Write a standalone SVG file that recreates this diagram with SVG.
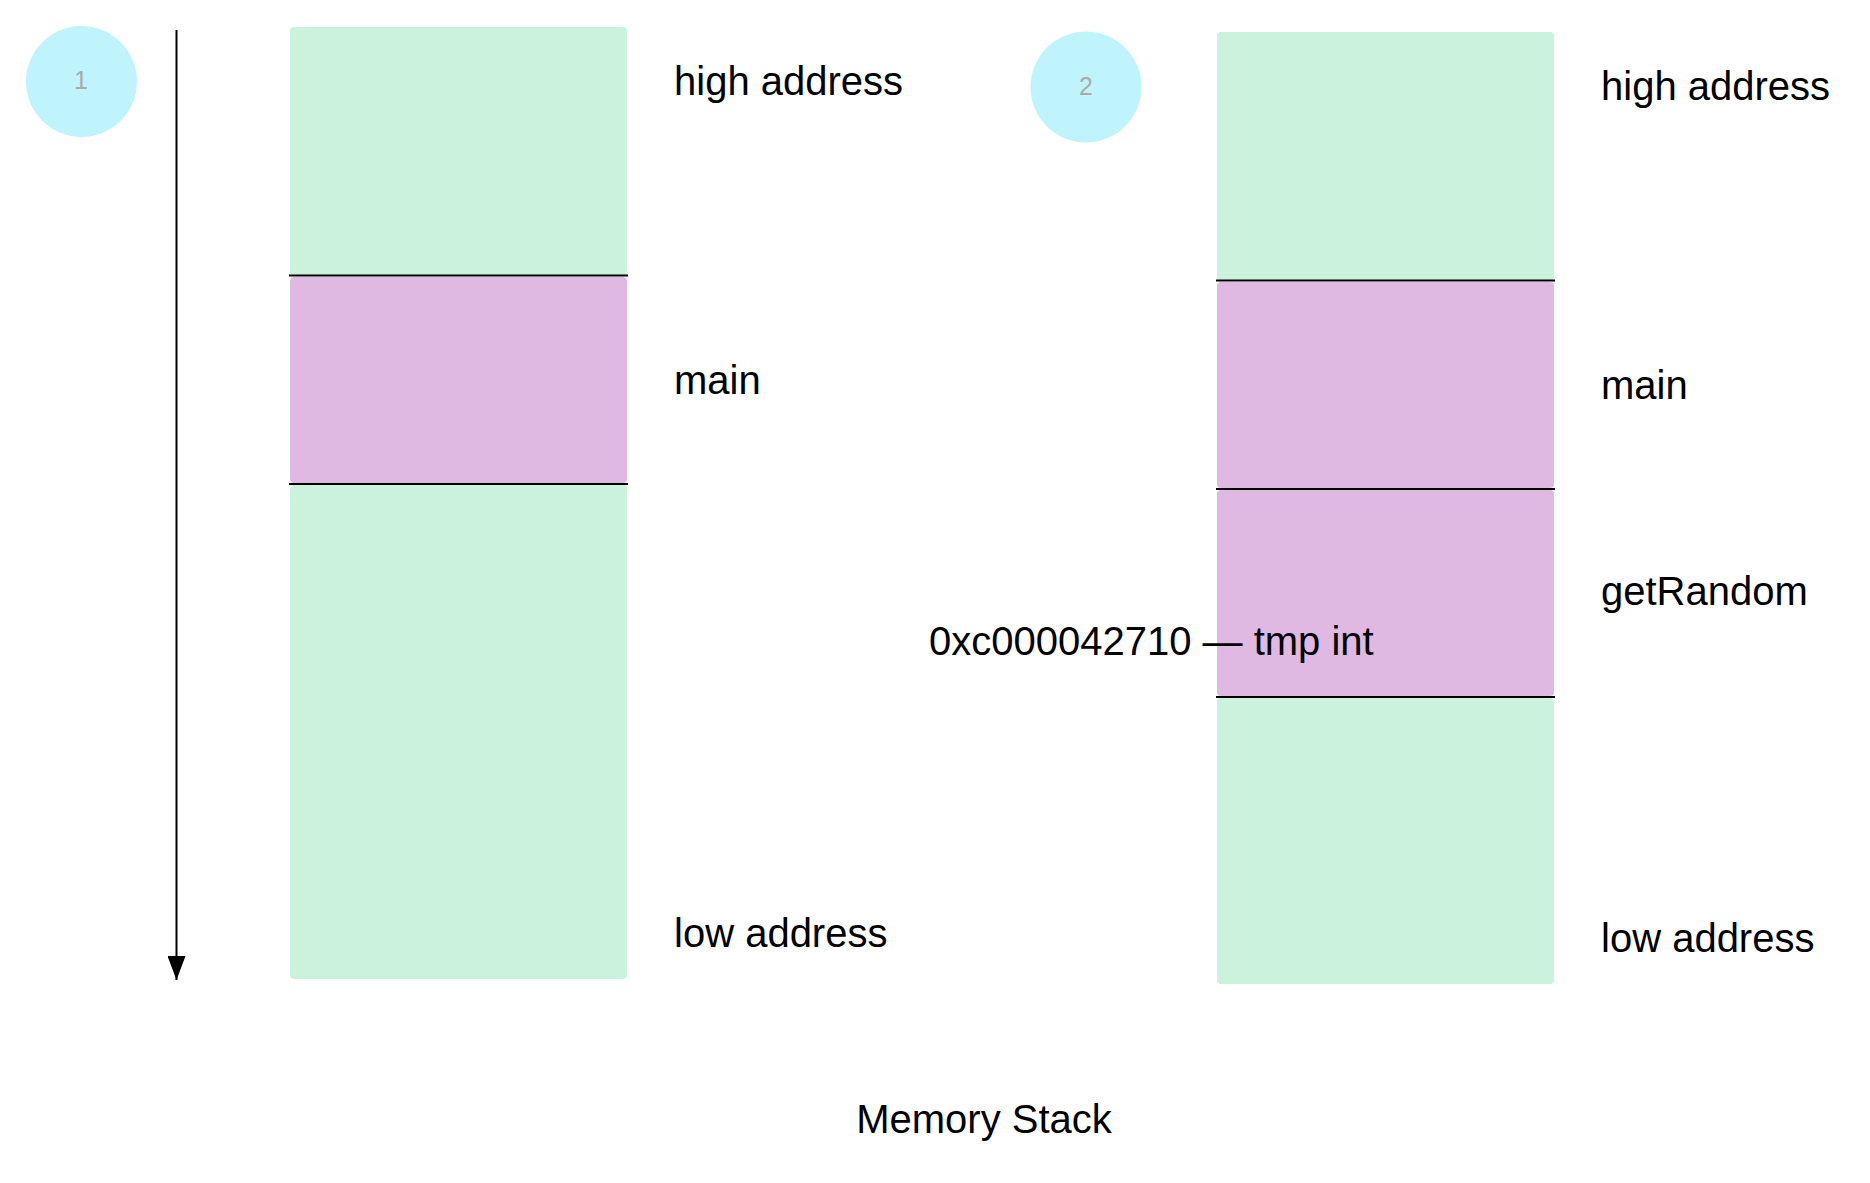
<svg xmlns="http://www.w3.org/2000/svg" width="1870" height="1183" viewBox="0 0 1870 1183">
<style>
.lbl{font-family:"Liberation Sans",Arial,Helvetica,sans-serif;font-size:40px;fill:#000}
.num{font-family:"Liberation Sans",Arial,Helvetica,sans-serif;font-size:25px;fill:#aaaaaa;text-anchor:middle}
.green{fill:#cbf2dd}
.pink{fill:#dfb9e2}
.badge{fill:#c0f4fc}
.sep{stroke:#000;stroke-width:2}
</style>
<defs>
<marker id="arr" viewBox="0 0 24 18" refX="24" refY="9" markerWidth="24" markerHeight="18" markerUnits="userSpaceOnUse" orient="auto">
<path d="M0,0 L24,9 L0,18 Z" fill="#000"/>
</marker>
</defs>
<rect width="1870" height="1183" fill="#fff"/>
<g id="badge1"><circle class="badge" cx="81.5" cy="81.5" r="55.5"/><text class="num" x="81" y="89">1</text></g>
<g id="badge2"><circle class="badge" cx="1086" cy="87" r="55.5"/><text class="num" x="1086" y="95">2</text></g>
<g id="stack1">
<rect class="green" x="290" y="27" width="337" height="249" rx="4"/>
<rect class="pink" x="290" y="277" width="337" height="206" rx="4"/>
<rect class="green" x="290" y="485" width="337" height="494" rx="4"/>
<line class="sep" x1="289" y1="275.5" x2="628" y2="275.5"/>
<line class="sep" x1="289" y1="484" x2="628" y2="484"/>
</g>
<g id="stack2">
<rect class="green" x="1217" y="32" width="337" height="249" rx="4"/>
<rect class="pink" x="1217" y="282" width="337" height="206" rx="4"/>
<rect class="pink" x="1217" y="490" width="337" height="206" rx="4"/>
<rect class="green" x="1217" y="698" width="337" height="286" rx="4"/>
<line class="sep" x1="1216" y1="280.5" x2="1555" y2="280.5"/>
<line class="sep" x1="1216" y1="489" x2="1555" y2="489"/>
<line class="sep" x1="1216" y1="697" x2="1555" y2="697"/>
</g>
<g id="connectors">
<line x1="176.5" y1="30" x2="176.5" y2="980" stroke="#000" stroke-width="2" marker-end="url(#arr)"/>
</g>
<g id="labels1">
<text class="lbl" x="674" y="95">high address</text>
<text class="lbl" x="674" y="394">main</text>
<text class="lbl" x="674" y="947">low address</text>
</g>
<g id="labels2">
<text class="lbl" x="1601" y="100">high address</text>
<text class="lbl" x="1601" y="399">main</text>
<text class="lbl" x="1601" y="605">getRandom</text>
<text class="lbl" x="1601" y="952">low address</text>
<text class="lbl" x="929" y="655">0xc000042710 — tmp int</text>
</g>
<g id="title"><text class="lbl" x="984" y="1133" text-anchor="middle">Memory Stack</text></g>
</svg>
